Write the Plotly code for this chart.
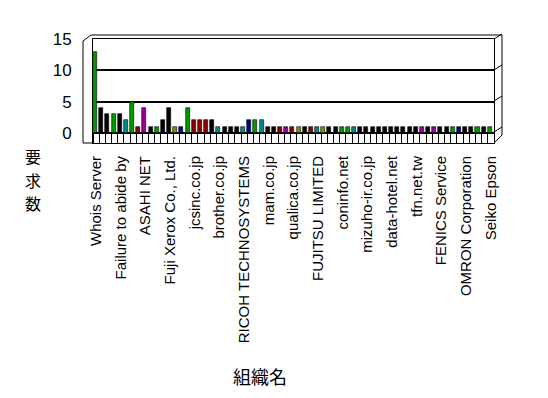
import plotly.graph_objects as go

# ---- data ----
tick_labels = ["Whois Server", "Failure to abide by", "ASAHI NET", "Fuji Xerox Co., Ltd.",
               "jcsinc.co.jp", "brother.co.jp", "RICOH TECHNOSYSTEMS", "mam.co.jp",
               "qualica.co.jp", "FUJITSU LIMITED", "coninfo.net", "mizuho-ir.co.jp",
               "data-hotel.net", "tfn.net.tw", "FENICS Service", "OMRON Corporation",
               "Seiko Epson"]
label_step = 4

values = [13, 4, 3, 3, 3, 2, 5, 1, 4, 1,
          1, 2, 4, 1, 1, 4, 2, 2, 2, 2,
          1, 1, 1, 1, 1, 2, 2, 2, 1, 1,
          1, 1, 1, 1, 1, 1, 1, 1, 1, 1,
          1, 1, 1, 1, 1, 1, 1, 1, 1, 1,
          1, 1, 1, 1, 1, 1, 1, 1, 1, 1,
          1, 1, 1, 1, 1]

bar_colors = ["g", "k", "k", "g", "k", "c", "g", "r", "p", "k",
              "g", "k", "k", "o", "b", "g", "r", "r", "r", "k",
              "c", "k", "k", "k", "c", "b", "g", "c", "k", "k",
              "r", "p", "r", "o", "k", "r", "c", "o", "k", "k",
              "g", "g", "c", "k", "k", "k", "k", "k", "k", "k",
              "k", "k", "k", "p", "k", "p", "k", "k", "g", "b",
              "k", "k", "g", "k", "g"]

palette = {"k": "#000000", "g": "#009900", "r": "#8b0000", "c": "#008b8b",
           "b": "#00008b", "p": "#990099", "o": "#8b8b00"}

y_title_chars = ["要", "求", "数"]
x_title = "組織名"

n = len(values)
xs = list(range(n))

fig = go.Figure()
fig.add_trace(go.Bar(
    x=xs, y=values,
    marker=dict(color=[palette[c] for c in bar_colors], line=dict(color="black", width=0.6)),
    width=0.65, offset=-0.5,
    showlegend=False, hoverinfo="skip",
))

# geometry helpers (plot area in pixels) for the 3D frame decoration
L, R, T, B = 93, 494, 39, 143
W, H = 548, 398


def px(x):
    return (x - L) / (R - L)


def py(y):
    return (B - y) / (B - T)


line = dict(color="black", width=1)
shapes = []
def seg(x0, y0, x1, y1):
    shapes.append(dict(type="line", xref="paper", yref="paper",
                       x0=px(x0), y0=py(y0), x1=px(x1), y1=py(y1), line=line))

seg(83, 41, 83, 143)
seg(83, 41, 91, 35)
seg(91, 35, 502, 35)
seg(502, 35, 502, 127)
seg(83, 143, 93, 143)
seg(494, 143, 502, 135)
seg(502, 127, 502, 135)
for gy in (39, 70, 101, 132):
    seg(494, gy, 502, gy - 5)

annotations = []
for i, ch in enumerate(y_title_chars):
    annotations.append(dict(text=ch, xref="paper", yref="paper", x=px(33), y=py(156 + 23.5 * i),
                            xanchor="center", yanchor="middle", showarrow=False,
                            font=dict(family="Noto Sans CJK JP", size=16)))
annotations.append(dict(text=x_title, xref="paper", yref="paper", x=px(260), y=py(376),
                        xanchor="center", yanchor="middle", showarrow=False,
                        font=dict(family="Noto Sans CJK JP", size=18)))

fig.update_layout(
    width=W, height=H,
    margin=dict(l=L, r=W - R, t=T, b=H - B, autoexpand=False),
    paper_bgcolor="white", plot_bgcolor="white",
    font=dict(family="Liberation Sans, Arial, sans-serif", size=16, color="black"),
    bargap=0,
    shapes=shapes,
    xaxis=dict(
        range=[-0.5, n - 0.5],
        tickmode="array",
        tickvals=xs[::label_step],
        ticktext=tick_labels,
        tickangle=-90,
        ticks="",
        ticklabelstandoff=6,
        showline=True, linecolor="black", linewidth=1, mirror=True,
        showgrid=False, zeroline=False,
        minor=dict(ticks="inside", ticklen=10, tickcolor="black", tickwidth=1,
                   tickmode="array", tickvals=[i - 0.5 for i in range(n + 1)], showgrid=False),
        tickfont=dict(size=15),
    ),
    yaxis=dict(
        range=[-1.6, 15.0],
        tickmode="array", tickvals=[0, 5, 10, 15],
        ticks="",
        ticklabelstandoff=17,
        showgrid=True, gridcolor="black", gridwidth=1.5,
        zeroline=True, zerolinecolor="black", zerolinewidth=1.5,
        showline=True, linecolor="black", linewidth=1, mirror=True,
        tickfont=dict(size=17),
    ),
    annotations=annotations,
)

fig.write_html("out.html", config={"displayModeBar": False},
               post_script="document.body.style.margin='0';")
